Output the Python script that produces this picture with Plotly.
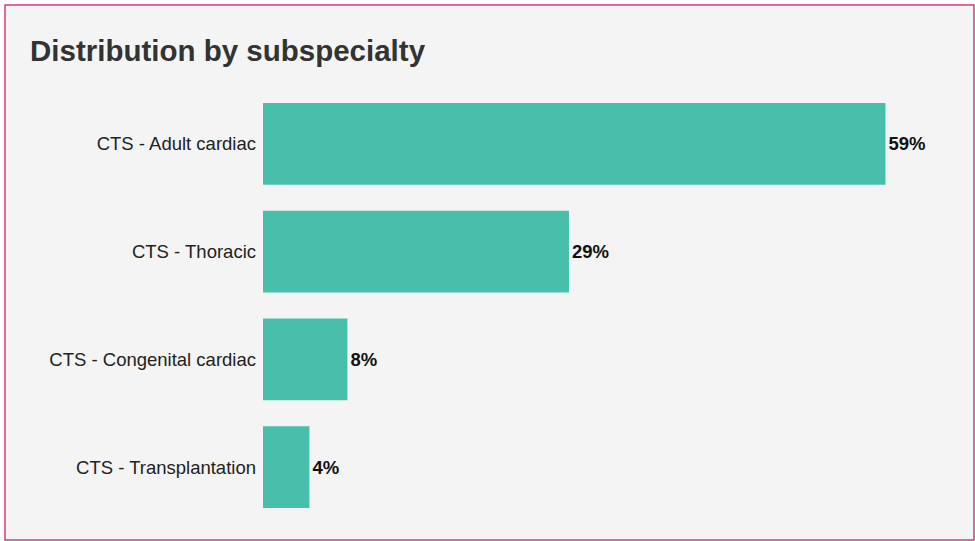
import plotly.graph_objects as go

categories = ["CTS - Adult cardiac", "CTS - Thoracic", "CTS - Congenital cardiac", "CTS - Transplantation"]
values = [59, 29, 8, 4.4]
labels = ["59%", "29%", "8%", "4%"]

W, H = 975, 541
ML, MR, MT, MB = 263, 40, 90, 20
pw = W - ML - MR
ph = H - MT - MB

fig = go.Figure(go.Bar(
    x=values, y=categories, orientation="h",
    marker=dict(color="#48bfab", line=dict(width=0)),
    text=labels, textposition="outside", cliponaxis=False,
    textfont=dict(family="Liberation Sans, Arial", size=18.5, color="#111111", weight="bold"),
    hoverinfo="skip",
))

def px_x(p):
    return (p - ML) / pw

def px_y(p):
    return (H - MB - p) / ph

fig.add_shape(type="rect", xref="paper", yref="paper",
              x0=px_x(5), x1=px_x(974), y0=px_y(540), y1=px_y(5),
              fillcolor="#f4f4f4", line=dict(color="#cc3f80", width=1.5), layer="below")

fig.update_layout(
    width=W, height=H,
    margin=dict(l=ML, r=MR, t=MT, b=MB),
    paper_bgcolor="white", plot_bgcolor="rgba(0,0,0,0)",
    bargap=0.24,
    title=dict(text="<b>Distribution by subspecialty</b>", x=30 / W, xanchor="left",
               y=1 - 51 / H, yanchor="middle",
               font=dict(family="Liberation Sans, Arial", size=29.5, color="#333333")),
    xaxis=dict(range=[0, pw / 10.55], visible=False, fixedrange=True),
    yaxis=dict(categoryorder="array", categoryarray=categories[::-1], showgrid=False,
               showline=False, zeroline=False, ticks="", ticklabelstandoff=6, fixedrange=True,
               tickfont=dict(family="Liberation Sans, Arial", size=18.5, color="#222222")),
    showlegend=False,
)

fig.write_html("out.html", config={"displayModeBar": False},
               post_script="document.body.style.margin='0';document.body.style.overflow='hidden';")
